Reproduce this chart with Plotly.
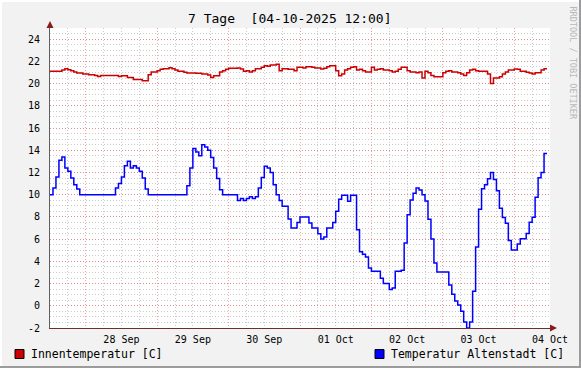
import pandas as pd
import plotly.graph_objects as go

# ---------------- data (hourly, starting 27 Sep 2025 12:00) ----------------
start_time = "2025-09-27 12:00"
end_time = "2025-10-04 12:00"

indoor = [
    21.10, 21.10, 21.10, 21.10, 21.22, 21.34, 21.25, 21.16, 21.04, 20.95,
    20.95, 20.86, 20.86, 20.80, 20.80, 20.73, 20.64, 20.73, 20.73, 20.73,
    20.73, 20.73, 20.73, 20.64, 20.70, 20.70, 20.55, 20.55, 20.37, 20.37,
    20.37, 20.25, 20.25, 20.80, 21.04, 21.04, 21.16, 21.28, 21.34, 21.34,
    21.43, 21.34, 21.22, 21.10, 21.10, 21.01, 20.95, 20.95, 20.95, 20.92,
    20.92, 20.86, 20.86, 20.77, 20.55, 20.70, 20.70, 21.04, 21.16, 21.28,
    21.37, 21.37, 21.37, 21.40, 21.31, 21.10, 21.16, 21.04, 21.16, 21.34,
    21.34, 21.46, 21.61, 21.55, 21.67, 21.67, 21.73, 21.16, 21.34, 21.34,
    21.28, 21.28, 21.16, 21.46, 21.46, 21.40, 21.52, 21.52, 21.46, 21.40,
    21.40, 21.31, 21.37, 21.52, 21.61, 21.61, 21.16, 20.70, 20.86, 21.22,
    21.34, 21.46, 21.52, 21.22, 21.28, 21.16, 21.04, 21.04, 21.46, 21.22,
    21.28, 21.34, 21.22, 21.22, 21.16, 21.04, 21.10, 21.28, 21.46, 21.46,
    21.16, 21.04, 21.04, 20.98, 21.04, 20.49, 21.10, 20.98, 20.73, 20.61,
    20.61, 20.61, 20.98, 21.10, 21.16, 21.04, 21.04, 20.98, 20.86, 20.73,
    20.98, 21.22, 21.28, 21.16, 21.10, 21.10, 21.10, 20.86, 20.01, 20.49,
    20.49, 20.61, 20.86, 21.04, 21.22, 21.22, 21.31, 21.28, 21.10, 21.10,
    21.01, 20.95, 20.86, 20.98, 20.98, 21.22, 21.34, 21.34,
]

outdoor = [
    10.0, 10.6, 11.6, 13.1, 13.4, 12.4, 12.1, 11.5, 10.9, 10.5,
    10.0, 10.0, 10.0, 10.0, 10.0, 10.0, 10.0, 10.0, 10.0, 10.0,
    10.0, 10.0, 10.6, 11.0, 11.6, 12.6, 13.0, 12.4, 12.6, 12.4,
    12.1, 11.5, 10.5, 10.0, 10.0, 10.0, 10.0, 10.0, 10.0, 10.0,
    10.0, 10.0, 10.0, 10.0, 10.0, 10.0, 10.8, 12.4, 14.15, 13.85,
    13.5, 14.5, 14.3, 14.0, 13.35, 12.4, 11.45, 10.45, 10.0, 10.0,
    10.0, 10.0, 10.0, 9.47, 9.65, 9.47, 9.65, 9.82, 9.65, 9.82,
    10.6, 11.55, 12.55, 12.4, 12.0, 10.9, 10.0, 9.48, 8.96, 8.96,
    7.8, 7.0, 7.0, 7.5, 8.0, 8.0, 8.0, 7.46, 6.99, 6.99,
    6.48, 6.0, 6.18, 6.99, 6.99, 7.49, 8.5, 9.58, 9.94, 9.94,
    9.40, 9.94, 9.94, 6.84, 4.87, 4.63, 4.39, 3.4, 3.1, 3.1,
    3.1, 2.48, 2.0, 2.0, 1.46, 1.6, 3.1, 3.1, 3.2, 5.64,
    8.2, 9.52, 10.12, 10.6, 10.42, 10.0, 9.43, 7.79, 6.0, 3.85,
    3.04, 3.04, 3.04, 3.04, 1.88, 1.04, 0.42, 0.06, -0.5, -1.46,
    -2.0, -1.46, 1.31, 5.28, 8.69, 10.54, 10.9, 11.43, 12.0, 11.37,
    10.36, 8.78, 7.94, 7.43, 5.88, 5.01, 5.01, 5.55, 6.03, 6.03,
    6.51, 7.52, 7.97, 9.76, 11.52, 12.0, 13.7, 13.7,
]

day_labels = ["28 Sep", "29 Sep", "30 Sep", "01 Oct", "02 Oct", "03 Oct", "04 Oct"]
y_tick_values = [-2, 0, 2, 4, 6, 8, 10, 12, 14, 16, 18, 20, 22, 24]
y_tick_labels = ["-2", "0", "2", "4", "6", "8", "10", "12", "14", "16", "18", "20", "22", "24"]

series_names = ["Innentemperatur [C]", "Temperatur Altenstadt [C]"]
series_colors = ["#CC0000", "#0000FF"]

# ---------------- derived axes values ----------------
times = pd.date_range(start_time, periods=len(outdoor), freq="h")
label_times = pd.date_range("2025-09-28 12:00", periods=len(day_labels), freq="D")
fmt = "%Y-%m-%d %H:%M"

W, H = 581, 368
L, R, T, B = 50, 31, 28, 40
PW, PH = W - L - R, H - T - B


def px(xp):
    return (xp - L) / PW


def py(yp):
    return (H - B - yp) / PH


FONT = "DejaVu Sans Mono"

fig = go.Figure()
fig.add_trace(go.Scatter(
    x=times, y=indoor, mode="lines", line=dict(color=series_colors[0], width=1.5, shape="hv"),
    name=series_names[0], xaxis="x", yaxis="y", showlegend=False, hoverinfo="skip",
))
fig.add_trace(go.Scatter(
    x=times, y=outdoor, mode="lines", line=dict(color=series_colors[1], width=1.5, shape="hv"),
    name=series_names[1], xaxis="x2", yaxis="y", showlegend=False, hoverinfo="skip",
))

major_grid = "rgba(235,90,90,0.55)"
minor_grid = "rgba(140,140,140,0.45)"
DASH = "1px,2px"

fig.update_layout(
    width=W, height=H,
    margin=dict(l=L, r=R, t=T, b=B, pad=0),
    paper_bgcolor="#F2F2F2",
    plot_bgcolor="#FFFFFF",
    font=dict(family=FONT, size=10, color="#000000"),
    xaxis=dict(
        type="date", range=[start_time, end_time],
        tickmode="linear", tick0="2025-09-28 00:00", dtick=86400000,
        showticklabels=False, ticks="",
        showgrid=True, gridcolor=major_grid, griddash=DASH, gridwidth=1,
        minor=dict(tickmode="linear", tick0="2025-09-27 12:00", dtick=21600000,
                   showgrid=True, gridcolor=minor_grid, griddash=DASH, gridwidth=1, ticks=""),
        showline=True, linecolor="#6A3030", linewidth=1,
        zeroline=False, fixedrange=True,
    ),
    xaxis2=dict(
        type="date", range=[start_time, end_time], overlaying="x", anchor="y", side="bottom",
        tickmode="array", tickvals=[t.strftime(fmt) for t in label_times], ticktext=day_labels,
        showgrid=False, ticks="", ticklabelstandoff=4,
        tickfont=dict(family=FONT, size=10, color="#000000"),
        showline=False, zeroline=False, fixedrange=True,
    ),
    yaxis=dict(
        range=[-2, 25], tickmode="array", tickvals=y_tick_values, ticktext=y_tick_labels,
        showgrid=True, gridcolor=major_grid, griddash=DASH, gridwidth=1,
        minor=dict(tickmode="linear", tick0=0, dtick=0.5, showgrid=True,
                   gridcolor=minor_grid, griddash=DASH, gridwidth=1, ticks=""),
        ticks="", ticklabelstandoff=7,
        tickfont=dict(family=FONT, size=10, color="#000000"),
        showline=True, linecolor="#606060", linewidth=1,
        zeroline=False, fixedrange=True,
    ),
)

shapes = []
# arrows at axis ends
shapes.append(dict(type="path", xref="paper", yref="paper",
                   path=f"M {px(50)},{py(21)} L {px(46.5)},{py(28)} L {px(53.5)},{py(28)} Z",
                   fillcolor="#8B1A1A", line=dict(width=0)))
shapes.append(dict(type="path", xref="paper", yref="paper",
                   path=f"M {px(557)},{py(328)} L {px(550)},{py(324.5)} L {px(550)},{py(331.5)} Z",
                   fillcolor="#8B1A1A", line=dict(width=0)))
# legend boxes
for (x0, col) in [(15, series_colors[0]), (375, series_colors[1])]:
    shapes.append(dict(type="rect", xref="paper", yref="paper",
                       x0=px(x0), x1=px(x0 + 9), y0=py(358.5), y1=py(349.5),
                       fillcolor=col, line=dict(color="#000000", width=1)))
# frame (3D border)
shapes.append(dict(type="line", xref="paper", yref="paper", x0=px(0), x1=px(581), y0=py(367), y1=py(367),
                   line=dict(color="#9C9C9C", width=2)))
shapes.append(dict(type="line", xref="paper", yref="paper", x0=px(580), x1=px(580), y0=py(0), y1=py(368),
                   line=dict(color="#9C9C9C", width=2)))
shapes.append(dict(type="line", xref="paper", yref="paper", x0=px(0), x1=px(579), y0=py(1), y1=py(1),
                   line=dict(color="#FFFFFF", width=2)))
shapes.append(dict(type="line", xref="paper", yref="paper", x0=px(1), x1=px(1), y0=py(0), y1=py(366),
                   line=dict(color="#FFFFFF", width=2)))
fig.update_layout(shapes=shapes)

annotations = [
    dict(text="7 Tage\u00a0 [04-10-2025 12:00]", xref="paper", yref="paper",
         x=px(290), y=py(19), xanchor="center", yanchor="middle", showarrow=False,
         font=dict(family=FONT, size=13, color="#000000")),
    dict(text=series_names[0], xref="paper", yref="paper",
         x=px(29), y=py(354), xanchor="left", yanchor="middle", showarrow=False,
         font=dict(family=FONT, size=11.5, color="#000000")),
    dict(text=series_names[1], xref="paper", yref="paper",
         x=px(389), y=py(354), xanchor="left", yanchor="middle", showarrow=False,
         font=dict(family=FONT, size=11.5, color="#000000")),
    dict(text="RRDTOOL / TOBI OETIKER", xref="paper", yref="paper",
         x=px(572), y=py(4), xanchor="center", yanchor="top", textangle=90, showarrow=False,
         font=dict(family=FONT, size=8.5, color="#B8B8B8")),
]
fig.update_layout(annotations=annotations)

fig.write_html("out.html")
